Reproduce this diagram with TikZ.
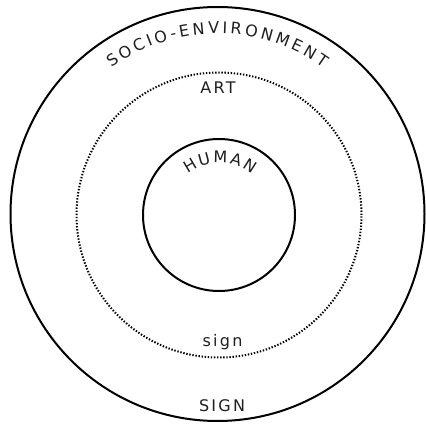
\documentclass[tikz,border=0pt]{standalone}
\usepackage{fontspec}
\setmainfont{DejaVu Sans}
\newfontfamily\lblfont[LetterSpace=14]{DejaVu Sans}
\usetikzlibrary{decorations.text,calc}
\begin{document}
\begin{tikzpicture}[x=1pt,y=1pt,
  ring/.style={draw=black,line width=2pt},
  dotring/.style={draw=black,line width=2pt,dash pattern=on 1.4pt off 1.7pt},
  lbl/.style={font=\fontsize{16}{19}\lblfont,text=black!88,inner sep=0pt,anchor=base},
  arctext/.style={decorate,decoration={text along path,text align=fit to path,
     text={|\fontsize{16}{19}\selectfont\color{black!88}|#1}}}]
\useasboundingbox (0,0) rectangle (426,-425);
\coordinate (co) at (217.5,-214);
\coordinate (ci) at (219,-215);
\node[ring,circle,minimum size=414pt,inner sep=0pt] (outer) at (co) {};
\node[dotring,circle,minimum size=285pt,inner sep=0pt] (mid) at (ci) {};
\node[ring,circle,minimum size=152pt,inner sep=0pt] (inner) at (ci) {};
\path[arctext={SOCIO-ENVIRONMENT}] ($(co)+(126:180.5)$) arc[start angle=126,end angle=54.2,radius=180.5];
\path[arctext={HUMAN}] ($(ci)+(127:52)$) arc[start angle=127,end angle=51,radius=52];
\node[lbl] (art) at (218,-94) {ART};
\node[lbl] (sign) at (222.5,-346) {sign};
\node[lbl] (SIGN) at (222,-411.5) {SIGN};
\end{tikzpicture}
\end{document}
